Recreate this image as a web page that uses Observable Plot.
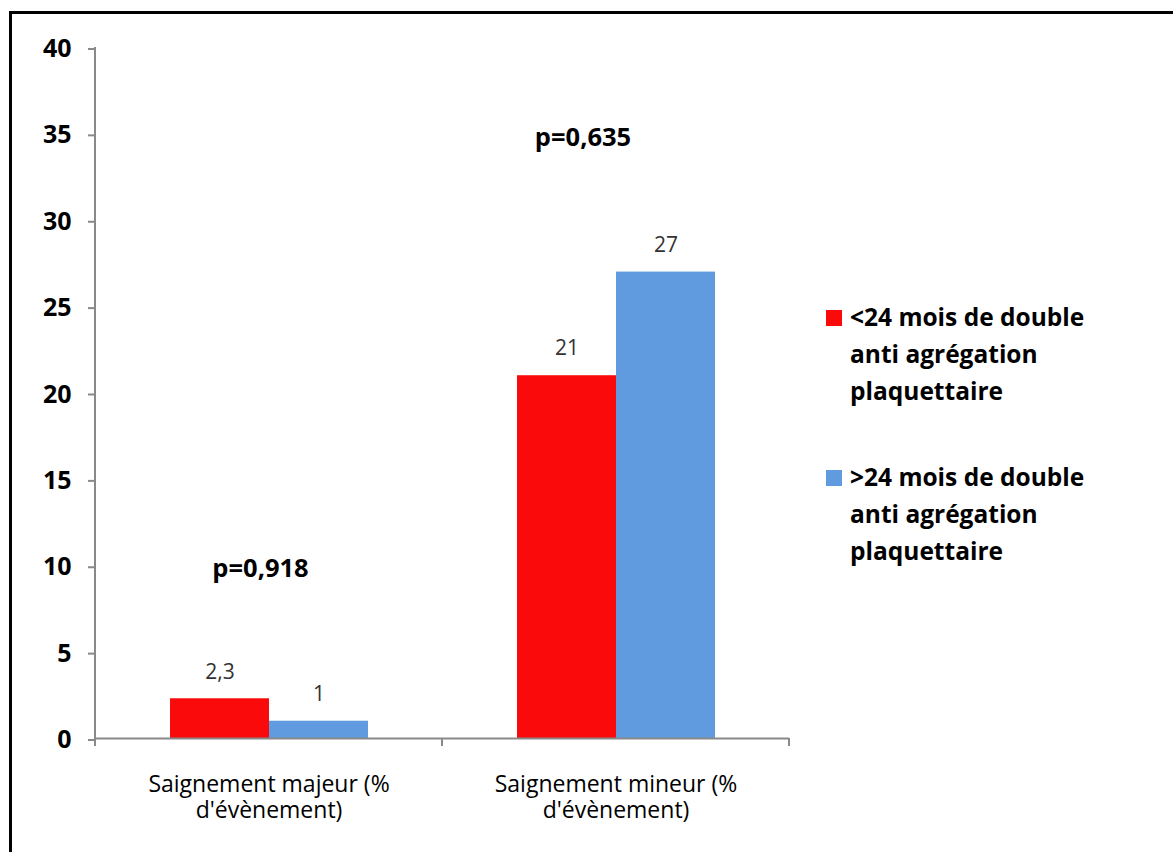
<!DOCTYPE html>
<html>
<head>
<meta charset="utf-8">
<script src="https://cdn.jsdelivr.net/npm/d3@7"></script>
<script src="https://cdn.jsdelivr.net/npm/@observablehq/plot@0.6"></script>
<style>
  html, body { margin: 0; padding: 0; background: #fff; overflow: hidden; }
  #wrap { position: relative; width: 1173px; height: 852px; font-family: "Open Sans", sans-serif; overflow: hidden; }
  #border { position: absolute; left: 9px; top: 11px; width: 1400px; height: 1000px; border-left: 3px solid #000; border-top: 3px solid #000; box-sizing: border-box; }
  #chart { position: absolute; left: 0; top: 0; }
  #legend { position: absolute; left: 826px; top: 0; }
  .entry { position: absolute; left: 0; width: 330px; font-size: 24.5px; font-weight: bold; line-height: 37px; color: #000; white-space: nowrap; }
  .swatch { position: absolute; left: 0; top: 12px; width: 16px; height: 16px; }
  .label { position: absolute; left: 24px; top: 0; }
</style>
</head>
<body>
<div id="wrap">
  <div id="border"></div>
  <div id="chart"></div>
  <div id="legend"></div>
</div>
<script>
// ---- data ----
const categories = ["Saignement majeur (% d'évènement)", "Saignement mineur (% d'évènement)"];
const categoryLabels = ["Saignement majeur (%\nd'évènement)", "Saignement mineur (%\nd'évènement)"];
const seriesNames = ["<24 mois de double anti agrégation plaquettaire", ">24 mois de double anti agrégation plaquettaire"];
const seriesLegendLines = [
  ["<24 mois de double", "anti agrégation", "plaquettaire"],
  [">24 mois de double", "anti agrégation", "plaquettaire"]
];
const seriesColors = ["#fa0a0a", "#5f9bde"];
const valuesUnder24 = [2.3, 21];
const valuesOver24 = [1, 27];
const yTicks = [0, 5, 10, 15, 20, 25, 30, 35, 40];
const pValueTexts = ["p=0,918", "p=0,635"];
const pValueLevels = [9.85, 34.8];

// ---- tables built from the arrays ----
const rows = categories.flatMap((c, i) => [
  {category: c, series: seriesNames[0], value: valuesUnder24[i]},
  {category: c, series: seriesNames[1], value: valuesOver24[i]}
]);
const annotations = pValueTexts.map((t, i) => ({category: categories[i], text: t, level: pValueLevels[i]}));
const fmt = v => String(v).replace(".", ",");
const axisGray = "#898989";

const plot = Plot.plot({
  width: 1173,
  height: 852,
  marginLeft: 95,
  marginRight: 384,
  marginTop: 47,
  marginBottom: 114,
  style: {fontFamily: '"Open Sans", sans-serif', background: "transparent", overflow: "visible"},
  fx: {domain: categories, padding: 0, label: null},
  x: {domain: seriesNames, paddingInner: 0, paddingOuter: 0.7525, axis: null},
  y: {domain: [0, 40], axis: null},
  color: {domain: seriesNames, range: seriesColors},
  marks: [
    Plot.barY(rows, {fx: "category", x: "series", y: "value", fill: "series"}),
    Plot.ruleY([0], {stroke: axisGray, strokeWidth: 2}),
    Plot.text(rows, {fx: "category", x: "series", y: "value", text: d => fmt(d.value), dy: -27, fontSize: 21, fill: "#333"}),
    Plot.text(annotations.slice(0, 1), {fx: "category", y: "level", text: "text", dx: -8.5, fontSize: 25.5, fontWeight: "bold", fill: "#000"}),
    Plot.text(annotations.slice(1), {fx: "category", y: "level", text: "text", dx: -33, fontSize: 25.5, fontWeight: "bold", fill: "#000"}),
    Plot.axisY({ticks: yTicks, tickSize: 7, tickPadding: 17, stroke: axisGray, strokeWidth: 2, fill: "#000", fontSize: 25, fontWeight: "bold", dy: 1.5, label: null}),
    Plot.axisFx({anchor: "bottom", tickSize: 0, tickPadding: 35, tickFormat: d => categoryLabels[categories.indexOf(d)], fontSize: 23, lineHeight: 1.14, fill: "#000", label: null})
  ]
});

// y axis line and category boundary ticks, from Plot's own scales
const fxS = plot.scale("fx");
const yS = plot.scale("y");
const y0 = yS.apply(0), yTop = yS.apply(40);
const xLeft = fxS.apply(categories[0]);
const bounds = categories.map(c => fxS.apply(c)).concat([fxS.apply(categories[categories.length - 1]) + fxS.bandwidth]);
const g = d3.select(plot).append("g").attr("stroke", axisGray).attr("stroke-width", 2);
g.append("line").attr("x1", xLeft).attr("x2", xLeft).attr("y1", yTop).attr("y2", y0);
bounds.forEach(bx => g.append("line").attr("x1", bx).attr("x2", bx).attr("y1", y0).attr("y2", y0 + 8));

document.getElementById("chart").appendChild(plot);

// legend
const legend = d3.select("#legend");
const entryTops = [298, 458];
seriesNames.forEach((s, i) => {
  const e = legend.append("div").attr("class", "entry").style("top", entryTops[i] + "px");
  e.append("div").attr("class", "swatch").style("background", seriesColors[i]);
  const l = e.append("div").attr("class", "label");
  seriesLegendLines[i].forEach(line => l.append("div").text(line));
});
</script>
</body>
</html>
